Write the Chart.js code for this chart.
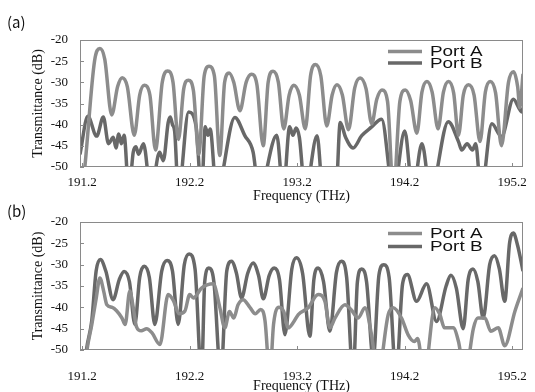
<!DOCTYPE html>
<html>
<head>
<meta charset="utf-8">
<script src="https://cdn.jsdelivr.net/npm/chart.js@4.4.1/dist/chart.umd.min.js"></script>
<style>
  html, body { margin: 0; padding: 0; background: #fff; }
  #wrap { position: relative; width: 535px; height: 392px; overflow: hidden; }
  canvas { position: absolute; left: 0; }
  #chartA { top: 0; }
  #chartB { top: 195px; }
  .tag { position: absolute; left: 7px; font: 15px "Noto Sans CJK JP", sans-serif; color: #111; line-height: 20px; }
</style>
</head>
<body>
<div id="wrap">
  <canvas id="chartA" width="535" height="205"></canvas>
  <canvas id="chartB" width="535" height="205"></canvas>
  <div class="tag" style="top:12px">(a)</div>
  <div class="tag" style="top:201px">(b)</div>
</div>
<script>
// axis ticks
const xTicks = [191.2, 192.2, 193.2, 194.2, 195.2];
const yTicks = [-50, -45, -40, -35, -30, -25, -20];

// panel (a), Port A
const freqA1 = [191.18, 191.225, 191.315, 191.365, 191.41, 191.475, 191.53, 191.572, 191.62, 191.685,
  191.735, 191.778, 191.83, 191.882, 191.945, 191.995, 192.045, 192.095, 192.145, 192.188,
  192.235, 192.285, 192.335, 192.38, 192.43, 192.48, 192.525, 192.567, 192.61, 192.667,
  192.725, 192.775, 192.825, 192.884, 192.93, 192.975, 193.025, 193.075, 193.125, 193.168,
  193.22, 193.275, 193.325, 193.37, 193.42, 193.475, 193.525, 193.57, 193.62, 193.677,
  193.735, 193.785, 193.84, 193.893, 193.94, 193.988, 194.04, 194.095, 194.155, 194.205,
  194.255, 194.313, 194.36, 194.407, 194.455, 194.51, 194.56, 194.607, 194.655, 194.70,
  194.745, 194.793, 194.845, 194.9, 194.95, 194.995, 195.045, 195.1, 195.165, 195.212,
  195.25, 195.27, 195.3];
const dbA1 = [-60, -50, -25, -22, -24.5, -37.7, -31, -28.9, -31, -42.5,
  -33, -30.7, -33, -46, -30, -27.3, -30, -43.5, -31.5, -29.5,
  -32, -47, -28.5, -26.2, -28.5, -47.3, -30, -27.8, -30, -36.7,
  -30, -28.1, -30.5, -45, -30, -27.4, -30, -41, -33, -30.7,
  -33, -41, -28.3, -25.8, -28.5, -40.3, -33, -30.6, -33, -41.2,
  -31.3, -29, -31.5, -39.8, -34, -31.8, -34.5, -56, -34.5, -31.8,
  -34.3, -42, -32.3, -29.8, -32.3, -41, -32.3, -29.8, -32.5, -42.5,
  -33, -30.6, -33, -44, -32.3, -29.8, -32.5, -45, -30, -27.5,
  -31, -36, -28];

// panel (a), Port B
const freqB1 = [191.18, 191.253, 191.335, 191.397, 191.445, 191.49, 191.515, 191.54, 191.565, 191.59,
  191.635, 191.675, 191.70, 191.725, 191.77, 191.84, 191.92, 191.955, 192.0, 192.02,
  192.04, 192.06, 192.095, 192.19, 192.26, 192.31, 192.345, 192.37, 192.39, 192.45,
  192.62, 192.713, 192.79, 192.845, 193.01, 193.07, 193.13, 193.16, 193.19, 193.22,
  193.275, 193.385, 193.44, 193.56, 193.6, 193.65, 193.72, 193.8, 193.89, 193.985,
  194.095, 194.2, 194.275, 194.36, 194.44, 194.605, 194.70, 194.73, 194.78, 194.83,
  194.86, 194.91, 195.01, 195.1, 195.21, 195.29, 195.3];
const dbB1 = [-47, -38, -42.7, -38.2, -44.5, -43, -45.5, -42.2, -44.5, -42.5,
  -56, -46.5, -45.2, -47, -44.5, -56, -46.5, -48.5, -39.5, -38.2,
  -40, -41.5, -56, -37, -40.5, -56, -40.5, -42.5, -41, -56,
  -38.3, -42.6, -46.5, -56, -42.5, -56, -40.5, -42.5, -40.8, -43,
  -56, -42.6, -56, -56, -39.5, -43, -45.5, -42.6, -40.6, -38.7,
  -56, -41.5, -56, -44.5, -56, -39.3, -44, -46, -44.5, -46,
  -44.5, -56, -39.8, -42.8, -34, -37, -36];

// panel (b), Port A
const freqA2 = [191.2, 191.245, 191.29, 191.33, 191.365, 191.40, 191.43, 191.48, 191.52, 191.57,
  191.60, 191.643, 191.675, 191.705, 191.75, 191.8, 191.85, 191.923, 192.0, 192.05,
  192.1, 192.155, 192.2, 192.235, 192.31, 192.42, 192.48, 192.527, 192.57, 192.61,
  192.65, 192.697, 192.76, 192.81, 192.86, 192.9, 192.946, 192.98, 193.03, 193.075,
  193.116, 193.165, 193.21, 193.302, 193.395, 193.458, 193.504, 193.55, 193.644, 193.70,
  193.767, 193.83, 193.891, 193.95, 194.047, 194.093, 194.17, 194.233, 194.29, 194.32,
  194.38, 194.48, 194.527, 194.57, 194.65, 194.7, 194.76, 194.84, 194.88, 194.946,
  195.0, 195.07, 195.13, 195.225, 195.3];
const dbA2 = [-60, -50, -44, -38, -33.1, -36.2, -39.4, -40, -40.8, -42.5,
  -44, -36.2, -40, -44.5, -45.5, -45, -46, -48.7, -37, -38.5,
  -41.5, -40.9, -37, -37.8, -35.5, -34.5, -40, -44.8, -41, -42.5,
  -39.4, -38.2, -40, -41.5, -40.5, -43, -56, -44, -40, -41,
  -44.8, -43.5, -41.7, -40.1, -37, -38.6, -44.8, -42.6, -39.4, -40.5,
  -42.5, -40.1, -46.4, -56, -41.7, -40.1, -42.5, -46.5, -48, -47.3,
  -56, -40.1, -41.7, -44.8, -44.8, -48, -56, -44.8, -42.5, -42.5,
  -45.6, -44.8, -49, -40.9, -35.5];

// panel (b), Port B
const freqB2 = [191.2, 191.24, 191.29, 191.33, 191.37, 191.42, 191.488, 191.545, 191.59, 191.64,
  191.69, 191.735, 191.777, 191.825, 191.876, 191.94, 191.99, 192.04, 192.093, 192.15,
  192.195, 192.25, 192.31, 192.34, 192.378, 192.425, 192.49, 192.545, 192.589, 192.635,
  192.682, 192.74, 192.79, 192.84, 192.885, 192.94, 192.986, 193.035, 193.086, 193.15,
  193.193, 193.25, 193.318, 193.355, 193.395, 193.445, 193.504, 193.565, 193.612, 193.66,
  193.72, 193.76, 193.8, 193.845, 193.907, 193.96, 194.005, 194.055, 194.12, 194.18,
  194.225, 194.31, 194.403, 194.496, 194.585, 194.63, 194.68, 194.744, 194.79, 194.835,
  194.88, 194.93, 194.99, 195.035, 195.08, 195.13, 195.175, 195.21, 195.25, 195.3];
const dbB2 = [-60, -50, -43, -31.5, -28.8, -31.5, -38.2, -33.5, -31.6, -34,
  -44, -33, -30.4, -33, -44, -31.5, -29, -31.5, -44, -30,
  -27.5, -31, -56, -34, -30.8, -34, -56, -31.5, -29.2, -32,
  -37.8, -32, -29.6, -32.5, -38, -32.5, -30.8, -33.5, -46.4, -31,
  -28.4, -32, -46.8, -33.5, -30.8, -34, -45.6, -31.8, -29.2, -33,
  -56, -34, -31, -34, -52, -32.5, -30, -33, -56, -34.5,
  -32.3, -38.6, -34.5, -43.3, -35, -32.5, -35.5, -45, -33.5, -31,
  -34, -42.5, -30, -27.9, -31, -38.6, -25, -22.6, -25.5, -31.5];

const colorA = '#8c8c8c';
const colorB = '#686868';

const toPoints = (xs, ys) => xs.map((x, i) => ({ x: x, y: ys[i] }));

// frame, inward ticks and legend drawn inside the plot area
const panelDecor = {
  id: 'panelDecor',
  afterDatasetsDraw(chart, args, opts) {
    const { ctx, chartArea: area, scales } = chart;
    ctx.save();
    ctx.strokeStyle = '#8a8a8a';
    ctx.lineWidth = 1;
    ctx.strokeRect(area.left + 0.5, area.top + 0.5, area.width - 1, area.height - 1);
    ctx.beginPath();
    yTicks.forEach(v => {
      const y = Math.round(scales.y.getPixelForValue(v)) + 0.5;
      ctx.moveTo(area.left, y);
      ctx.lineTo(area.left + 4, y);
    });
    xTicks.forEach(v => {
      const x = Math.round(scales.x.getPixelForValue(v)) + 0.5;
      ctx.moveTo(x, area.bottom);
      ctx.lineTo(x, area.bottom - 4);
    });
    ctx.stroke();

    chart.data.datasets.forEach((ds, i) => {
      const y = area.top + opts.rows[i];
      ctx.strokeStyle = ds.borderColor;
      ctx.lineWidth = 3.5;
      ctx.beginPath();
      ctx.moveTo(area.right - 135, y);
      ctx.lineTo(area.right - 101, y);
      ctx.stroke();
      // the legend lettering is wide in the source, so stretch it a little
      ctx.save();
      ctx.translate(area.right - 93, y + 1);
      ctx.scale(1.35, 1);
      ctx.fillStyle = '#111';
      ctx.font = '14px "Liberation Sans"';
      ctx.textBaseline = 'middle';
      ctx.fillText(ds.label, 0, 0);
      ctx.restore();
    });
    ctx.restore();
  }
};

function buildChart(id, ptsA, ptsB, cfg) {
  return new Chart(document.getElementById(id), {
    type: 'line',
    data: {
      datasets: [
        { label: 'Port A', data: ptsA, borderColor: colorA },
        { label: 'Port B', data: ptsB, borderColor: colorB }
      ]
    },
    options: {
      responsive: false,
      animation: false,
      events: [],
      layout: { padding: { top: cfg.top, right: 12, left: 0, bottom: 0 } },
      elements: {
        point: { radius: 0 },
        line: { borderWidth: 3.5, cubicInterpolationMode: 'monotone', fill: false }
      },
      datasets: { line: { clip: 0 } },
      plugins: {
        legend: { display: false },
        tooltip: { enabled: false },
        panelDecor: { rows: cfg.rows }
      },
      scales: {
        x: {
          type: 'linear',
          min: 191.18,
          max: 195.3,
          afterBuildTicks: s => { s.ticks = xTicks.map(v => ({ value: v })); },
          afterFit: s => {
            s.height = cfg.xHeight;
            s.paddingLeft = 0;
            s.paddingRight = 0;
          },
          grid: { display: false, drawTicks: false },
          border: { display: false },
          ticks: {
            padding: cfg.tickPad,
            color: '#111',
            font: { family: '"Liberation Serif"', size: 13 },
            callback: v => v.toFixed(1)
          },
          title: {
            display: true,
            text: 'Frequency (THz)',
            color: '#111',
            font: { family: '"Liberation Serif"', size: 14 },
            padding: { top: 0, bottom: cfg.titlePad }
          }
        },
        y: {
          min: -50,
          max: -20,
          afterBuildTicks: s => { s.ticks = yTicks.map(v => ({ value: v })); },
          afterFit: s => { s.width = 80; },
          grid: { display: false, drawTicks: false },
          border: { display: false },
          ticks: {
            padding: 12,
            color: '#111',
            font: { family: '"Liberation Serif"', size: 13 },
            callback: v => String(v)
          },
          title: {
            display: true,
            text: 'Transmittance (dB)',
            color: '#111',
            font: { family: '"Liberation Serif"', size: 14 },
            padding: { top: 30, bottom: 0 }
          }
        }
      }
    },
    plugins: [panelDecor]
  });
}

buildChart('chartA', toPoints(freqA1, dbA1), toPoints(freqB1, dbB1),
  { top: 40, xHeight: 38, tickPad: 8, titlePad: 0, rows: [11.5, 23] });
buildChart('chartB', toPoints(freqA2, dbA2), toPoints(freqB2, dbB2),
  { top: 27, xHeight: 50, tickPad: 19, titlePad: 5, rows: [11.5, 24.5] });
</script>
</body>
</html>
